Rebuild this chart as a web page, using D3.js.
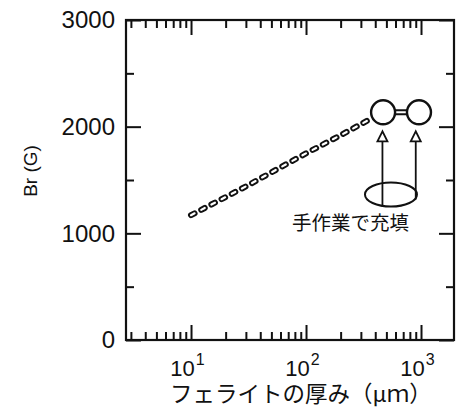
<!DOCTYPE html>
<html>
<head>
<meta charset="utf-8">
<script src="https://cdn.jsdelivr.net/npm/d3@7"></script>
<style>
  body { margin: 0; background: #fff; }
  svg { display: block; }
  .tick line { stroke: #111; stroke-width: 2; }
</style>
</head>
<body>
<div id="chart"></div>
<script>
// chart values
var thickness = [10, 30, 100, 200, 375];          // ferrite thickness (um), dashed chain
var brValues = [1170, 1440, 1750, 1920, 2080];    // Br (G)
var filledThickness = [468, 960];                 // hand-filled samples (circles)
var filledBr = [2135, 2135];
var yMajor = [0, 1000, 2000, 3000];
var yMinor = [500, 1500, 2500];
var xMajor = [10, 100, 1000];
var xMinor = [3, 4, 5, 6, 7, 8, 9, 20, 30, 40, 50, 60, 70, 80, 90, 200, 300, 400, 500, 600, 700, 800, 900];
var xExponents = ["1", "2", "3"];

var svgWidth = 464;
var svgHeight = 408;

var margin = { top: 20, right: 10, bottom: 68, left: 126 };
var width = svgWidth - margin.left - margin.right;
var height = svgHeight - margin.top - margin.bottom;

var svg = d3.select("#chart")
  .append("svg")
  .attr("width", svgWidth)
  .attr("height", svgHeight);

var chartGroup = svg.append("g")
  .attr("transform", `translate(${margin.left}, ${margin.top})`);

// scales
var x = d3.scaleLog()
  .domain([2.72, 1936])
  .range([0, width]);

var y = d3.scaleLinear()
  .domain([0, 3000])
  .range([height, 0]);

// left axis (ticks point inward)
var leftAxis = chartGroup.append("g")
  .call(d3.axisLeft(y).tickValues(yMajor).tickSize(-15).tickPadding(11).tickFormat(d3.format("d")));
leftAxis.selectAll("text")
  .attr("font-family", "'Liberation Sans', Arial, sans-serif")
  .attr("font-size", "24px")
  .attr("fill", "#111");
chartGroup.append("g")
  .call(d3.axisLeft(y).tickValues(yMinor).tickSize(-8).tickFormat(""));

// right axis
chartGroup.append("g")
  .attr("transform", `translate(${width}, 0)`)
  .call(d3.axisRight(y).tickValues(yMajor).tickSize(-15).tickFormat(""));
chartGroup.append("g")
  .attr("transform", `translate(${width}, 0)`)
  .call(d3.axisRight(y).tickValues(yMinor).tickSize(-8).tickFormat(""));

// bottom axis with 10^n labels
var bottomAxis = chartGroup.append("g")
  .attr("transform", `translate(0, ${height})`)
  .call(d3.axisBottom(x).tickValues(xMajor).tickSize(-15).tickFormat(""));
chartGroup.append("g")
  .attr("transform", `translate(0, ${height})`)
  .call(d3.axisBottom(x).tickValues(xMinor).tickSize(-8).tickFormat(""));

bottomAxis.selectAll(".tick text")
  .each(function(d, i) {
    var t = d3.select(this)
      .attr("y", 36)
      .attr("dy", 0)
      .attr("x", -4)
      .attr("font-family", "'Liberation Sans', Arial, sans-serif")
      .attr("font-size", "22px")
      .attr("fill", "#111");
    t.append("tspan").text("10");
    t.append("tspan")
      .attr("dx", 1)
      .attr("dy", -11)
      .attr("font-size", "16px")
      .text(xExponents[i]);
  });

// top axis
chartGroup.append("g")
  .call(d3.axisTop(x).tickValues(xMajor).tickSize(-15).tickFormat(""));
chartGroup.append("g")
  .call(d3.axisTop(x).tickValues(xMinor).tickSize(-8).tickFormat(""));

chartGroup.selectAll(".domain").remove();

// frame
chartGroup.append("rect")
  .attr("width", width)
  .attr("height", height)
  .attr("fill", "none")
  .attr("stroke", "#111")
  .attr("stroke-width", 2.2);

// chain line (hollow links)
var line = d3.line()
  .x(d => x(d[0]))
  .y(d => y(d[1]));
var chainData = thickness.map((t, i) => [t, brValues[i]]);

chartGroup.append("path")
  .datum(chainData)
  .attr("d", line)
  .attr("fill", "none")
  .attr("stroke", "#111")
  .attr("stroke-width", 6)
  .attr("stroke-linecap", "round")
  .attr("stroke-dasharray", "4 7.5");
chartGroup.append("path")
  .datum(chainData)
  .attr("d", line)
  .attr("fill", "none")
  .attr("stroke", "#fff")
  .attr("stroke-width", 2.2)
  .attr("stroke-linecap", "round")
  .attr("stroke-dasharray", "4 7.5");

// link between the two circles
var linkData = filledThickness.map((t, i) => [t, filledBr[i]]);
chartGroup.append("path")
  .datum(linkData)
  .attr("d", line)
  .attr("stroke", "#111")
  .attr("stroke-width", 6);
chartGroup.append("path")
  .datum(linkData)
  .attr("d", line)
  .attr("stroke", "#fff")
  .attr("stroke-width", 2.2);

chartGroup.selectAll("circle.filled")
  .data(linkData)
  .enter()
  .append("circle")
  .attr("class", "filled")
  .attr("cx", d => x(d[0]))
  .attr("cy", d => y(d[1]))
  .attr("r", 12)
  .attr("fill", "#fff")
  .attr("stroke", "#111")
  .attr("stroke-width", 2.4);

// annotation: ellipse + arrows + label
var arrowX = [462, 900];
var arrowBottom = [1251, 1317];
var arrowTip = 1956;

chartGroup.append("ellipse")
  .attr("cx", x(548))
  .attr("cy", y(1364))
  .attr("rx", 26)
  .attr("ry", 12)
  .attr("fill", "none")
  .attr("stroke", "#111")
  .attr("stroke-width", 2);

arrowX.forEach(function(ax, i) {
  var px = x(ax);
  var tip = y(arrowTip);
  chartGroup.append("line")
    .attr("x1", px).attr("x2", px)
    .attr("y1", y(arrowBottom[i]))
    .attr("y2", tip + 10)
    .attr("stroke", "#111")
    .attr("stroke-width", 1.8);
  chartGroup.append("path")
    .attr("d", `M${px},${tip} L${px - 5},${tip + 10} L${px + 5},${tip + 10} Z`)
    .attr("fill", "#fff")
    .attr("stroke", "#111")
    .attr("stroke-width", 1.8)
    .attr("stroke-linejoin", "miter");
});

chartGroup.append("text")
  .attr("x", x(75.5))
  .attr("y", y(1034))
  .attr("font-family", "'Noto Sans CJK JP', sans-serif")
  .attr("font-size", "19.5px")
  .attr("fill", "#111")
  .text("手作業で充填");

// axis titles
svg.append("text")
  .attr("transform", "translate(37, 171) rotate(-90)")
  .attr("text-anchor", "middle")
  .attr("font-family", "'Liberation Sans', Arial, sans-serif")
  .attr("font-size", "19px")
  .attr("fill", "#111")
  .text("Br (G)");

svg.append("text")
  .attr("x", 170)
  .attr("y", 402)
  .attr("font-family", "'Noto Sans CJK JP', sans-serif")
  .attr("font-size", "22.5px")
  .attr("fill", "#111")
  .text("フェライトの厚み（μｍ）");
</script>
</body>
</html>
